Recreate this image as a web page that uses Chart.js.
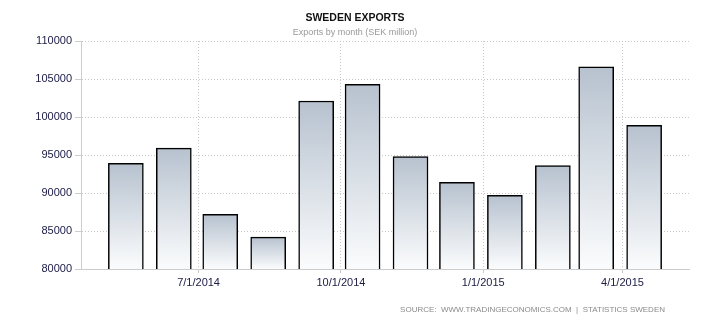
<!DOCTYPE html>
<html>
<head>
<meta charset="utf-8">
<title>Sweden Exports</title>
<script src="https://cdn.jsdelivr.net/npm/chart.js@4/dist/chart.umd.min.js"></script>
<style>
  html, body { margin: 0; padding: 0; background: #fff; }
  #wrap { position: relative; width: 710px; height: 325px; }
</style>
</head>
<body>
<div id="wrap"><canvas id="exports-chart" width="710" height="325"></canvas></div>
<script>
// Monthly exports, SEK million
const months = ['2014-05', '2014-06', '2014-07', '2014-08', '2014-09', '2014-10',
                '2014-11', '2014-12', '2015-01', '2015-02', '2015-03', '2015-04'];
const exportValues = [93900, 95900, 87200, 84200, 102100, 104300,
                      94800, 91400, 89700, 93600, 106600, 98900];
const tickDates = ['2014-07-01', '2014-10-01', '2015-01-01', '2015-04-01'];
const yTicks = [80000, 85000, 90000, 95000, 100000, 105000, 110000];

const titleText = 'SWEDEN EXPORTS';
const subtitleText = 'Exports by month (SEK million)';
const sourceText = 'SOURCE:  WWW.TRADINGECONOMICS.COM  |  STATISTICS SWEDEN';

// days since epoch, so the x axis can be a plain linear scale
function dayNum(iso) {
  const p = iso.split('-').map(Number);
  return Date.UTC(p[0], p[1] - 1, p[2] || 1) / 86400000;
}
function fmtDay(v) {
  const d = new Date(Math.round(v) * 86400000);
  return (d.getUTCMonth() + 1) + '/' + d.getUTCDate() + '/' + d.getUTCFullYear();
}

// each month's bar sits in the middle of the month
const points = months.map((m, i) => ({ x: dayNum(m + '-15'), y: exportValues[i] }));

const textPlugin = {
  id: 'texts',
  afterDraw(chart) {
    const ctx = chart.ctx;
    ctx.save();
    ctx.textAlign = 'center';
    ctx.textBaseline = 'middle';
    ctx.fillStyle = '#111';
    ctx.font = 'bold 10.5px "Liberation Sans", Arial, sans-serif';
    ctx.fillText(titleText, 355, 18);
    ctx.fillStyle = '#999';
    ctx.font = '9px "Liberation Sans", Arial, sans-serif';
    ctx.fillText(subtitleText, 355, 33);
    ctx.textAlign = 'right';
    ctx.fillStyle = '#8a8a8a';
    ctx.font = '8px "Liberation Sans", Arial, sans-serif';
    ctx.fillText(sourceText, 665, 310);
    ctx.restore();
  }
};

function barGradient(context) {
  const chart = context.chart;
  if (!chart.chartArea || context.parsed === undefined) return '#c8d0da';
  const yScale = chart.scales.y;
  const top = yScale.getPixelForValue(context.parsed.y);
  const bottom = yScale.getPixelForValue(yTicks[0]);
  const g = chart.ctx.createLinearGradient(0, top, 0, bottom);
  g.addColorStop(0, 'rgb(183,194,207)');
  g.addColorStop(1, 'rgb(251,252,253)');
  return g;
}

const ctx = document.getElementById('exports-chart').getContext('2d');
new Chart(ctx, {
  type: 'bar',
  data: {
    datasets: [{
      label: 'Exports',
      data: points,
      backgroundColor: barGradient,
      borderColor: '#000',
      borderWidth: 1.5,
      barThickness: 35
    }]
  },
  options: {
    responsive: false,
    animation: false,
    layout: { padding: { top: 41, right: 21, left: 0, bottom: 0 } },
    plugins: {
      legend: { display: false },
      tooltip: { enabled: false }
    },
    scales: {
      x: {
        type: 'linear',
        offset: false,
        min: dayNum('2014-04-16'),
        max: dayNum('2015-05-14'),
        afterBuildTicks(scale) {
          scale.ticks = tickDates.map(d => ({ value: dayNum(d) }));
        },
        afterFit(scale) { scale.height = 56; },
        grid: {
          color: '#c8c8c8',
          tickBorderDash: [],
          tickLength: 4,
          tickColor: '#cccccc',
          offset: false
        },
        // dash applies to the grid lines; the axis line itself stays solid
        border: { color: '#cccccc', width: 1, dash: [1, 2] },
        ticks: {
          callback: v => fmtDay(v),
          color: '#20204a',
          padding: 3,
          maxRotation: 0,
          font: { family: '"Liberation Sans", Arial, sans-serif', size: 11 }
        }
      },
      y: {
        min: 80000,
        max: 110000,
        afterBuildTicks(scale) {
          scale.ticks = yTicks.map(v => ({ value: v }));
        },
        afterFit(scale) { scale.width = 81; },
        grid: {
          color: '#c8c8c8',
          tickBorderDash: [],
          tickLength: 6,
          tickColor: '#cccccc'
        },
        border: { color: '#cccccc', width: 1, dash: [1, 2] },
        ticks: {
          callback: v => String(v),
          color: '#20204a',
          padding: 3,
          font: { family: '"Liberation Sans", Arial, sans-serif', size: 11 }
        }
      }
    }
  },
  plugins: [textPlugin]
});
</script>
</body>
</html>
